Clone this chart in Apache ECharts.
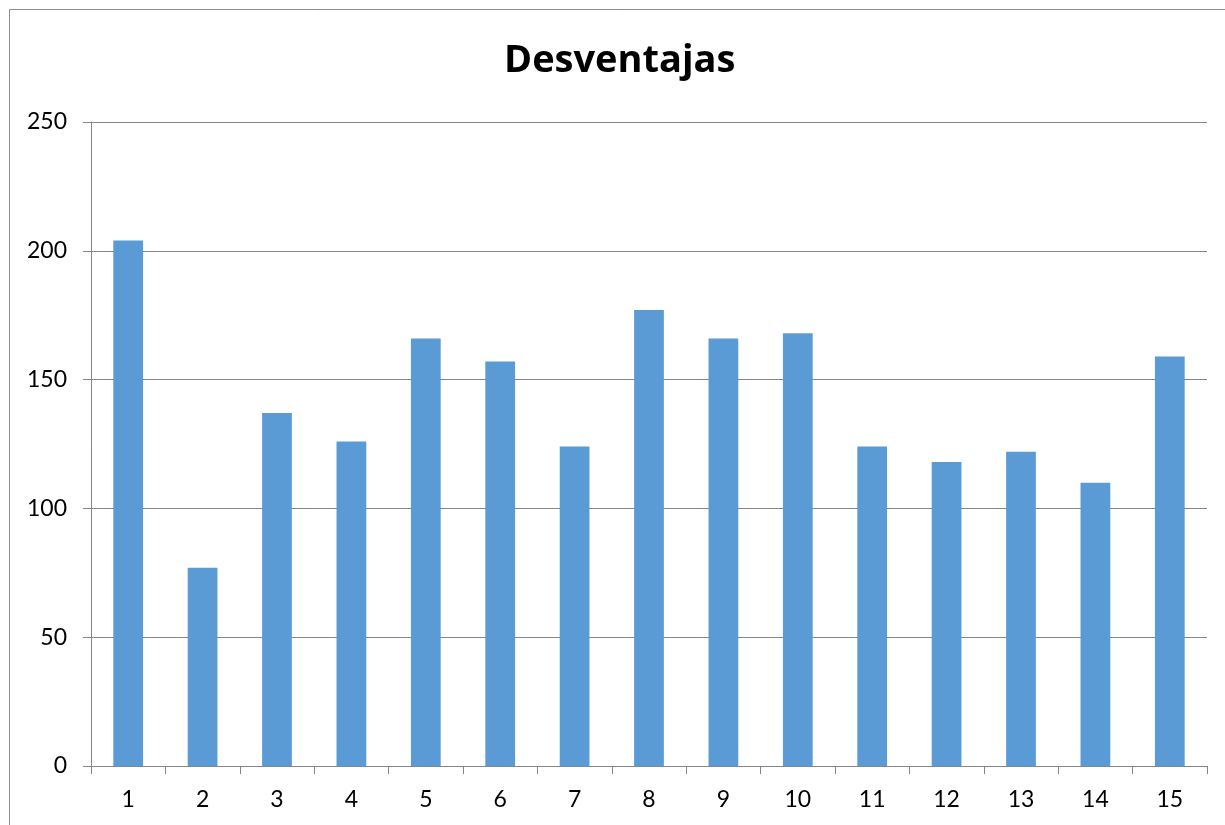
<!DOCTYPE html>
<html>
<head>
<meta charset="utf-8">
<script src="https://cdn.jsdelivr.net/npm/echarts@6/dist/echarts.min.js"></script>
<style>
html,body{margin:0;padding:0;background:#fff;}
#chart{width:1225px;height:825px;}
</style>
</head>
<body>
<div id="chart"></div>
<script>
var titleText = 'Desventajas';
var categories = ['1','2','3','4','5','6','7','8','9','10','11','12','13','14','15'];
var values = [204, 77, 137, 126, 166, 157, 124, 177, 166, 168, 124, 118, 122, 110, 159];
var yTicks = [0, 50, 100, 150, 200, 250];

var chart = echarts.init(document.getElementById('chart'));
chart.setOption({
  animation: false,
  backgroundColor: '#ffffff',
  graphic: [{
    type: 'rect',
    shape: {x: 9.5, y: 9.5, width: 1400, height: 1000},
    style: {fill: 'none', stroke: '#8c8c8c', lineWidth: 1},
    silent: true
  }],
  title: {
    text: titleText,
    left: 504,
    top: 42,
    padding: 0,
    textStyle: {fontFamily: 'Open Sans', fontWeight: 'bold', fontSize: 38, color: '#000'}
  },
  grid: {left: 91, right: 18, top: 122, bottom: 59, containLabel: false},
  xAxis: {
    type: 'category',
    data: categories,
    axisLine: {show: true, lineStyle: {color: '#868686', width: 1}},
    axisTick: {show: true, length: 8, alignWithLabel: false, lineStyle: {color: '#868686'}},
    axisLabel: {margin: 22, fontFamily: 'Lato', fontSize: 23, color: '#000'}
  },
  yAxis: {
    type: 'value',
    min: yTicks[0],
    max: yTicks[yTicks.length - 1],
    interval: 50,
    axisLine: {show: true, lineStyle: {color: '#868686', width: 1}},
    axisTick: {show: true, length: 8, lineStyle: {color: '#868686'}},
    splitLine: {show: true, lineStyle: {color: '#868686', width: 1}},
    axisLabel: {margin: 24, fontFamily: 'Lato', fontSize: 23, color: '#000'}
  },
  series: [{
    type: 'bar',
    data: values,
    barWidth: '40%',
    itemStyle: {color: '#5b9bd5'}
  }]
});
</script>
</body>
</html>
